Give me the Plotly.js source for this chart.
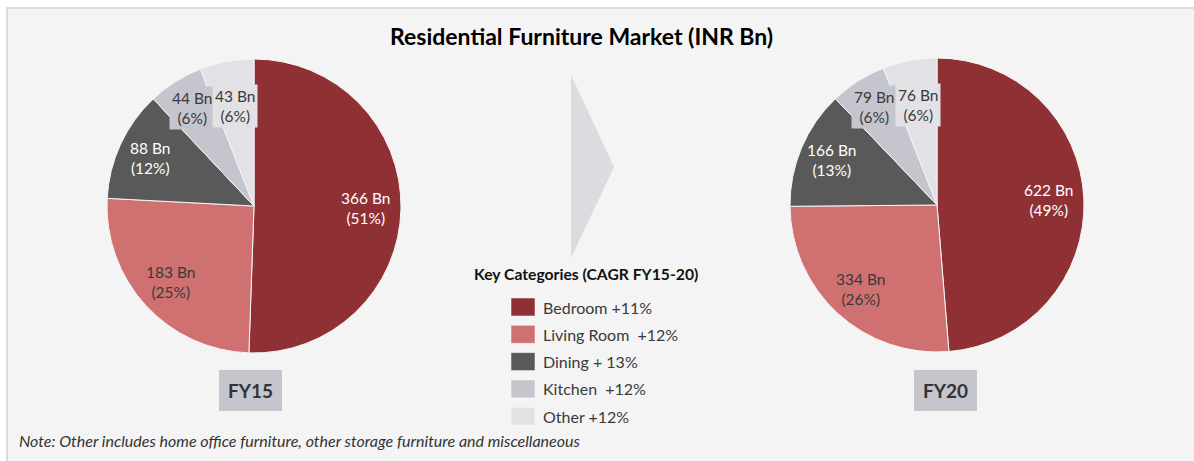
<!DOCTYPE html>
<html><head><meta charset="utf-8">
<script src="https://cdn.plot.ly/plotly-3.0.1.min.js"></script>
<style>html,body{margin:0;padding:0;background:#fff;}#chart{width:1194px;height:461px;}</style>
</head><body><div id="chart"></div>
<script>
// ---- data ----
const categories = ['Bedroom', 'Living Room', 'Dining', 'Kitchen', 'Other'];
const fy15Values = [366, 183, 88, 44, 43];
const fy20Values = [622, 334, 166, 79, 76];
const legendLabels = ['Bedroom +11%', 'Living Room\u00a0 +12%', 'Dining + 13%', 'Kitchen\u00a0 +12%', 'Other +12%'];
const periodLabels = ['FY15', 'FY20'];
const chartTitle = 'Residential Furniture Market (INR Bn)';
const legendTitle = 'Key Categories (CAGR FY15-20)';
const noteText = 'Note: Other includes home office furniture, other storage furniture and miscellaneous';

// ---- style ----
const W = 1194, H = 461;
const colors = ['#8f3034', '#cf7171', '#595959', '#c5c5cd', '#e2e2e6'];
const textColors = ['#ffffff', '#3a3a3a', '#ffffff', '#3a3a3a', '#3a3a3a'];
const labelRadius = [0.76, 0.77, 0.78, 0.79, 0.69];
const FONT = 'Lato, "Open Sans", sans-serif';
const pies = [
  {cx: 254, cy: 206, r: 147, values: fy15Values, box: [219, 370, 282, 411]},
  {cx: 937, cy: 205, r: 147, values: fy20Values, box: [914, 370, 977, 411]}
];
const X = px => px / W;
const Y = py => 1 - py / H;

const traces = [];
const annotations = [];
const shapes = [];

// background frame
shapes.push({type: 'rect', xref: 'paper', yref: 'paper', layer: 'below',
  x0: X(7), x1: 1.05, y0: -0.05, y1: Y(8),
  fillcolor: '#f4f4f4', line: {color: '#d2d2d2', width: 1.5}});

// arrow
shapes.push({type: 'path', xref: 'paper', yref: 'paper', layer: 'below',
  path: `M ${X(571)},${Y(75)} L ${X(614)},${Y(167)} L ${X(571)},${Y(258)} Z`,
  fillcolor: '#dbdbe0', line: {width: 0}});

pies.forEach((p, k) => {
  traces.push({
    type: 'pie', labels: categories, values: p.values, sort: false,
    direction: 'clockwise', rotation: 0, textinfo: 'none', hoverinfo: 'none',
    marker: {colors: colors, line: {color: '#f4f4f4', width: 1}},
    domain: {x: [X(p.cx - p.r), X(p.cx + p.r)], y: [Y(p.cy + p.r), Y(p.cy - p.r)]},
    showlegend: false
  });
  const total = p.values.reduce((a, b) => a + b, 0);
  let cum = 0;
  p.values.forEach((v, i) => {
    const frac = v / total;
    const mid = (cum + frac / 2) * 2 * Math.PI;
    cum += frac;
    const rr = labelRadius[i] * p.r;
    const lx = p.cx + rr * Math.sin(mid);
    const ly = p.cy - rr * Math.cos(mid);
    const ann = {xref: 'paper', yref: 'paper', x: X(lx), y: Y(ly),
      xanchor: 'center', yanchor: 'middle', showarrow: false, align: 'center',
      text: `${v} Bn<br>(${Math.round(frac * 100)}%)`,
      font: {family: FONT, size: 15.5, color: textColors[i]}};
    if (frac < 0.1) { ann.bgcolor = colors[i]; ann.borderpad = 2; }
    annotations.push(ann);
  });
  // period box
  shapes.push({type: 'rect', xref: 'paper', yref: 'paper',
    x0: X(p.box[0]), x1: X(p.box[2]), y0: Y(p.box[3]), y1: Y(p.box[1]),
    fillcolor: '#c5c5cd', line: {width: 0}});
  annotations.push({xref: 'paper', yref: 'paper', x: X((p.box[0] + p.box[2]) / 2), y: Y((p.box[1] + p.box[3]) / 2),
    xanchor: 'center', yanchor: 'middle', showarrow: false, text: '<b>' + periodLabels[k] + '</b>',
    font: {family: FONT, size: 19, color: '#333333'}});
});

// legend
annotations.push({xref: 'paper', yref: 'paper', x: X(586), y: Y(274), xanchor: 'center', yanchor: 'middle',
  showarrow: false, text: '<b>' + legendTitle + '</b>', font: {family: FONT, size: 15.7, color: '#111111'}});
categories.forEach((c, i) => {
  const cy = 307 + i * 27.3;
  shapes.push({type: 'rect', xref: 'paper', yref: 'paper',
    x0: X(511), x1: X(535), y0: Y(cy + 9), y1: Y(cy - 9),
    fillcolor: colors[i], line: {color: '#ffffff', width: 0.5}});
  annotations.push({xref: 'paper', yref: 'paper', x: X(541), y: Y(cy), xanchor: 'left', yanchor: 'middle',
    showarrow: false, text: legendLabels[i], font: {family: FONT, size: 16, color: '#3a3a3a'}});
});

// title and note
annotations.push({xref: 'paper', yref: 'paper', x: X(581), y: Y(36), xanchor: 'center', yanchor: 'middle',
  showarrow: false, text: '<b>' + chartTitle + '</b>', font: {family: FONT, size: 23, color: '#000000'}});
annotations.push({xref: 'paper', yref: 'paper', x: X(17), y: Y(440), xanchor: 'left', yanchor: 'middle',
  showarrow: false, text: '<i>' + noteText + '</i>', font: {family: FONT, size: 16, color: '#333333'}});

const layout = {
  width: W, height: H, margin: {l: 0, r: 0, t: 0, b: 0},
  paper_bgcolor: '#ffffff', plot_bgcolor: 'rgba(0,0,0,0)',
  shapes: shapes, annotations: annotations, showlegend: false
};
Plotly.newPlot('chart', traces, layout, {displayModeBar: false, staticPlot: true});
</script>
</body></html>
